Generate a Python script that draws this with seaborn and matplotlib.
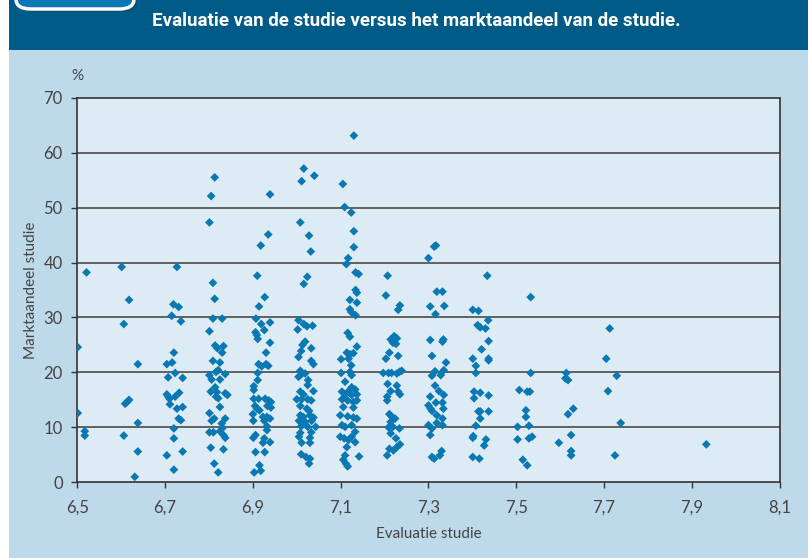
import matplotlib
matplotlib.use("Agg")
import matplotlib.pyplot as plt
import seaborn as sns
import pandas as pd
from matplotlib.patches import Rectangle, FancyBboxPatch

sns.set_theme(style="white")
plt.rcParams["font.family"] = ["Lato", "DejaVu Sans"]

# evaluatie (x) and marktaandeel (y) per group
evaluatie = [
    6.501, 6.501, 6.517, 6.517, 6.521,
    6.601, 6.618, 6.606, 6.638, 6.609, 6.613, 6.618, 6.638, 6.606, 6.638, 6.631,
    6.727, 6.719, 6.731, 6.715, 6.736, 6.720, 6.716, 6.704, 6.723, 6.707, 6.740, 6.704, 6.732,
    6.707, 6.710, 6.723, 6.711, 6.727, 6.740, 6.731, 6.736, 6.720, 6.720, 6.704, 6.740, 6.720,
    6.813, 6.805, 6.801, 6.809, 6.813, 6.809, 6.830, 6.801, 6.814, 6.833, 6.819, 6.830, 6.809,
    6.825, 6.821, 6.816, 6.837, 6.801, 6.806, 6.825, 6.814, 6.804, 6.818, 6.837, 6.842, 6.816,
    6.821, 6.825, 6.801, 6.812, 6.806, 6.837, 6.829, 6.831, 6.801, 6.810, 6.825, 6.833, 6.837,
    6.804, 6.833, 6.812, 6.821,
    6.939, 6.935, 6.918, 6.910, 6.927, 6.914, 6.907, 6.919, 6.939, 6.926, 6.906, 6.909, 6.911,
    6.939, 6.930, 6.913, 6.920, 6.930, 6.935, 6.911, 6.911, 6.902, 6.902, 6.902, 6.913, 6.928,
    6.936, 6.941, 6.905, 6.933, 6.941, 6.909, 6.915, 6.900, 6.923, 6.932, 6.939, 6.901, 6.926,
    6.932, 6.932, 6.906, 6.901, 6.926, 6.923, 6.939, 6.906, 6.927, 6.915, 6.918, 6.903,
    7.016, 7.011, 7.040, 7.008, 7.028, 7.032, 7.024, 7.016, 7.004, 7.002, 7.016, 7.036, 7.023,
    7.019, 7.013, 7.033, 7.010, 7.004, 7.033, 7.038, 7.008, 7.011, 7.019, 7.004, 7.026, 7.025,
    7.038, 7.008, 7.015, 7.000, 7.011, 7.025, 7.033, 7.008, 7.023, 7.028, 7.008, 7.015, 7.030,
    7.038, 7.005, 7.019, 7.034, 7.010, 7.025, 7.043, 7.008, 7.005, 7.030, 7.033, 7.011, 7.030,
    7.010, 7.021, 7.030, 7.028,
    7.130, 7.105, 7.109, 7.124, 7.130, 7.130, 7.117, 7.113, 7.134, 7.141, 7.134, 7.137, 7.121,
    7.137, 7.121, 7.124, 7.134, 7.116, 7.121, 7.137, 7.114, 7.121, 7.129, 7.101, 7.118, 7.124,
    7.101, 7.121, 7.125, 7.110, 7.125, 7.133, 7.118, 7.103, 7.110, 7.125, 7.137, 7.103, 7.116,
    7.129, 7.137, 7.106, 7.129, 7.099, 7.116, 7.129, 7.137, 7.103, 7.110, 7.125, 7.133, 7.099,
    7.108, 7.118, 7.133, 7.125, 7.114, 7.142, 7.110, 7.106, 7.112, 7.116,
    7.207, 7.203, 7.235, 7.231, 7.222, 7.214, 7.228, 7.219, 7.226, 7.211, 7.231, 7.203, 7.197,
    7.209, 7.216, 7.228, 7.234, 7.239, 7.207, 7.228, 7.214, 7.231, 7.235, 7.206, 7.206, 7.211,
    7.216, 7.224, 7.214, 7.209, 7.234, 7.219, 7.214, 7.226, 7.235, 7.228, 7.211, 7.220, 7.206,
    7.313, 7.317, 7.300, 7.319, 7.332, 7.304, 7.336, 7.316, 7.304, 7.334, 7.332, 7.308, 7.340,
    7.315, 7.335, 7.308, 7.328, 7.315, 7.324, 7.335, 7.304, 7.317, 7.332, 7.300, 7.305, 7.334,
    7.308, 7.319, 7.332, 7.319, 7.300, 7.308, 7.332, 7.304, 7.330, 7.326, 7.308, 7.313,
    7.434, 7.401, 7.414, 7.436, 7.412, 7.418, 7.430, 7.437, 7.421, 7.401, 7.437, 7.437, 7.408,
    7.408, 7.404, 7.418, 7.404, 7.437, 7.414, 7.418, 7.437, 7.418, 7.408, 7.402, 7.401, 7.431,
    7.427, 7.401, 7.416,
    7.533, 7.533, 7.507, 7.525, 7.531, 7.522, 7.522, 7.503, 7.529, 7.503, 7.529, 7.536, 7.515, 7.525,
    7.614, 7.612, 7.618, 7.630, 7.618, 7.625, 7.597, 7.625, 7.625,
    7.713, 7.705, 7.729, 7.709, 7.738, 7.725,
    7.933,
]
marktaandeel = [
    24.6, 12.6, 9.3, 8.5, 38.2,
    39.2, 33.2, 28.8, 21.5, 14.3, 14.6, 15.0, 10.8, 8.5, 5.6, 1.0,
    39.2, 32.4, 31.9, 30.3, 29.3, 23.6, 21.8, 21.5, 19.9, 19.1, 19.0, 16.0, 16.3,
    15.6, 15.2, 15.6, 14.2, 13.4, 13.7, 11.6, 11.3, 9.8, 8.0, 4.9, 5.6, 2.3,
    55.5, 52.1, 47.3, 36.3, 33.4, 29.8, 29.8, 27.5, 24.9, 24.8, 24.4, 23.6, 22.1,
    21.8, 20.4, 20.1, 19.7, 19.5, 18.7, 18.7, 17.3, 16.5, 16.4, 16.2, 15.9, 15.6,
    15.3, 13.7, 12.6, 11.6, 11.2, 11.6, 10.7, 9.9, 9.1, 9.1, 9.3, 8.6, 8.1,
    6.3, 6.0, 3.4, 1.8,
    52.4, 45.1, 43.1, 37.6, 33.7, 32.0, 29.8, 28.8, 29.1, 27.7, 27.3, 26.8, 26.1,
    25.4, 23.6, 21.5, 21.1, 21.5, 21.2, 19.9, 18.6, 17.5, 16.8, 15.2, 15.2, 15.2,
    14.9, 14.6, 13.9, 13.9, 13.6, 13.4, 13.1, 12.4, 11.9, 11.9, 11.6, 11.2, 11.2,
    10.2, 9.5, 8.6, 8.1, 8.0, 7.2, 7.3, 5.5, 5.5, 3.1, 2.1, 1.8,
    57.1, 54.8, 55.8, 47.3, 44.9, 42.0, 37.4, 36.1, 29.5, 27.8, 28.8, 28.5, 28.4,
    25.6, 25.0, 24.4, 23.9, 22.8, 22.1, 21.5, 20.3, 19.7, 19.8, 19.2, 18.6, 17.7,
    16.6, 16.5, 16.0, 15.1, 15.1, 15.1, 14.9, 13.9, 13.4, 13.0, 12.2, 11.9, 12.2,
    11.8, 11.2, 11.0, 11.2, 10.2, 10.1, 10.1, 9.0, 8.3, 8.1, 9.1, 7.2, 7.2,
    5.1, 4.6, 4.3, 3.4,
    63.1, 54.3, 50.1, 49.1, 45.7, 42.8, 40.8, 39.7, 38.2, 37.9, 35.0, 34.5, 33.2,
    32.7, 31.5, 31.0, 30.4, 27.2, 26.5, 24.7, 23.6, 23.3, 23.5, 22.4, 22.5, 21.3,
    19.9, 20.1, 19.5, 18.3, 17.3, 16.9, 16.6, 16.5, 15.9, 15.9, 16.0, 15.1, 14.9,
    14.6, 14.9, 13.7, 13.6, 12.2, 12.0, 11.8, 11.6, 10.4, 10.1, 10.4, 9.2, 8.3,
    8.0, 7.7, 7.3, 8.3, 6.4, 4.7, 4.9, 4.1, 3.4, 2.9,
    37.6, 34.0, 32.2, 31.4, 26.6, 26.0, 26.2, 25.4, 25.2, 23.6, 23.0, 22.5, 19.9,
    19.9, 19.9, 19.8, 20.1, 20.3, 17.9, 17.6, 16.6, 16.5, 16.0, 15.6, 14.9, 12.4,
    12.0, 11.6, 11.0, 10.0, 9.8, 10.1, 8.9, 8.0, 6.9, 6.4, 6.1, 5.8, 4.9,
    42.9, 43.1, 40.8, 34.7, 34.7, 32.0, 32.1, 30.6, 25.9, 26.0, 25.6, 23.0, 21.8,
    20.2, 20.4, 19.4, 19.5, 17.6, 16.6, 15.9, 15.6, 14.5, 14.5, 14.0, 13.4, 13.4,
    13.0, 12.2, 11.6, 10.8, 10.4, 9.8, 10.4, 8.6, 5.7, 4.9, 4.6, 4.3,
    37.6, 31.4, 31.2, 29.5, 28.6, 28.2, 28.0, 25.7, 24.2, 22.5, 22.5, 22.2, 21.2,
    19.9, 16.5, 16.3, 15.3, 15.8, 12.9, 12.9, 12.9, 11.6, 10.3, 8.4, 8.1, 7.8,
    6.7, 4.6, 4.3,
    33.7, 19.9, 16.8, 16.5, 16.5, 13.1, 11.9, 10.1, 10.3, 7.8, 8.0, 8.3, 4.1, 3.1,
    19.9, 18.9, 18.6, 13.4, 12.4, 8.6, 7.2, 5.7, 4.9,
    28.0, 22.5, 19.4, 16.6, 10.8, 4.9,
    6.9,
]

x_ticks = [6.5, 6.7, 6.9, 7.1, 7.3, 7.5, 7.7, 7.9, 8.1]
x_labels = ["6,5", "6,7", "6,9", "7,1", "7,3", "7,5", "7,7", "7,9", "8,1"]
y_ticks = [0, 10, 20, 30, 40, 50, 60, 70]

df = pd.DataFrame({"Evaluatie studie": evaluatie, "Marktaandeel studie": marktaandeel})

W, H = 808, 558
fig = plt.figure(figsize=(W / 100, H / 100), dpi=100)
fig.patch.set_facecolor("white")

# backgrounds: light blue panel and dark header band
fig.patches.append(Rectangle((9 / W, 0), 1, 1 - 50 / H, transform=fig.transFigure,
                             facecolor="#bed9ea", edgecolor="none", zorder=0))
fig.patches.append(Rectangle((9 / W, 1 - 50 / H), 1, 50 / H, transform=fig.transFigure,
                             facecolor="#005b87", edgecolor="none", zorder=0))
# cut-off rounded tab at top left
fig.patches.append(FancyBboxPatch((19 / W, 1 - 12 / H), 118 / W, 40 / H,
                                  boxstyle="round,pad=0,rounding_size=0.018",
                                  transform=fig.transFigure, facecolor="#1f3f57",
                                  edgecolor="none", alpha=0.5, zorder=1))
fig.patches.append(FancyBboxPatch((16 / W, 1 - 9 / H), 118 / W, 40 / H,
                                  boxstyle="round,pad=0,rounding_size=0.018",
                                  transform=fig.transFigure, facecolor="#0a78b2",
                                  edgecolor="white", linewidth=2.5, zorder=2))

fig.text(152 / W, 1 - 21 / H, "Evaluatie van de studie versus het marktaandeel van de studie.",
         color="white", fontsize=13.5, fontweight="bold", family=["Roboto", "DejaVu Sans"],
         va="center", ha="left", zorder=3)

ax = fig.add_axes([77.3 / W, 1 - 482.3 / H, (779.6 - 77.3) / W, (482.3 - 97.7) / H])
ax.set_zorder(5)
ax.set_facecolor("#ddebf4")

sns.scatterplot(data=df, x="Evaluatie studie", y="Marktaandeel studie", ax=ax,
                marker="D", s=20, color="#0a78b2", edgecolor="none", linewidth=0,
                zorder=3)

ax.set_xlim(6.5, 8.1)
ax.set_ylim(0, 70)
ax.set_xticks(x_ticks)
ax.set_xticklabels(x_labels)
ax.set_yticks(y_ticks)
for v in y_ticks[1:-1]:
    ax.axhline(v, color="#4a4a4a", linewidth=1.2, zorder=1)

for side in ["left", "bottom", "top", "right"]:
    ax.spines[side].set_color("#333333")
    ax.spines[side].set_linewidth(1.2)

ax.tick_params(axis="both", which="both", length=4.5, width=1, color="#333333",
               labelsize=12, labelcolor="#444444")
ax.tick_params(axis="x", pad=8, bottom=True)
ax.tick_params(axis="y", pad=6, left=True)

ax.set_xlabel("Evaluatie studie", fontsize=11, color="#444444", labelpad=8)
ax.set_ylabel("Marktaandeel studie", fontsize=11, color="#444444", labelpad=4)
fig.text(77 / W, 1 - 76 / H, "%", fontsize=11, color="#444444", ha="center", va="center",
         zorder=6)

fig.savefig("out.png", dpi=100)
